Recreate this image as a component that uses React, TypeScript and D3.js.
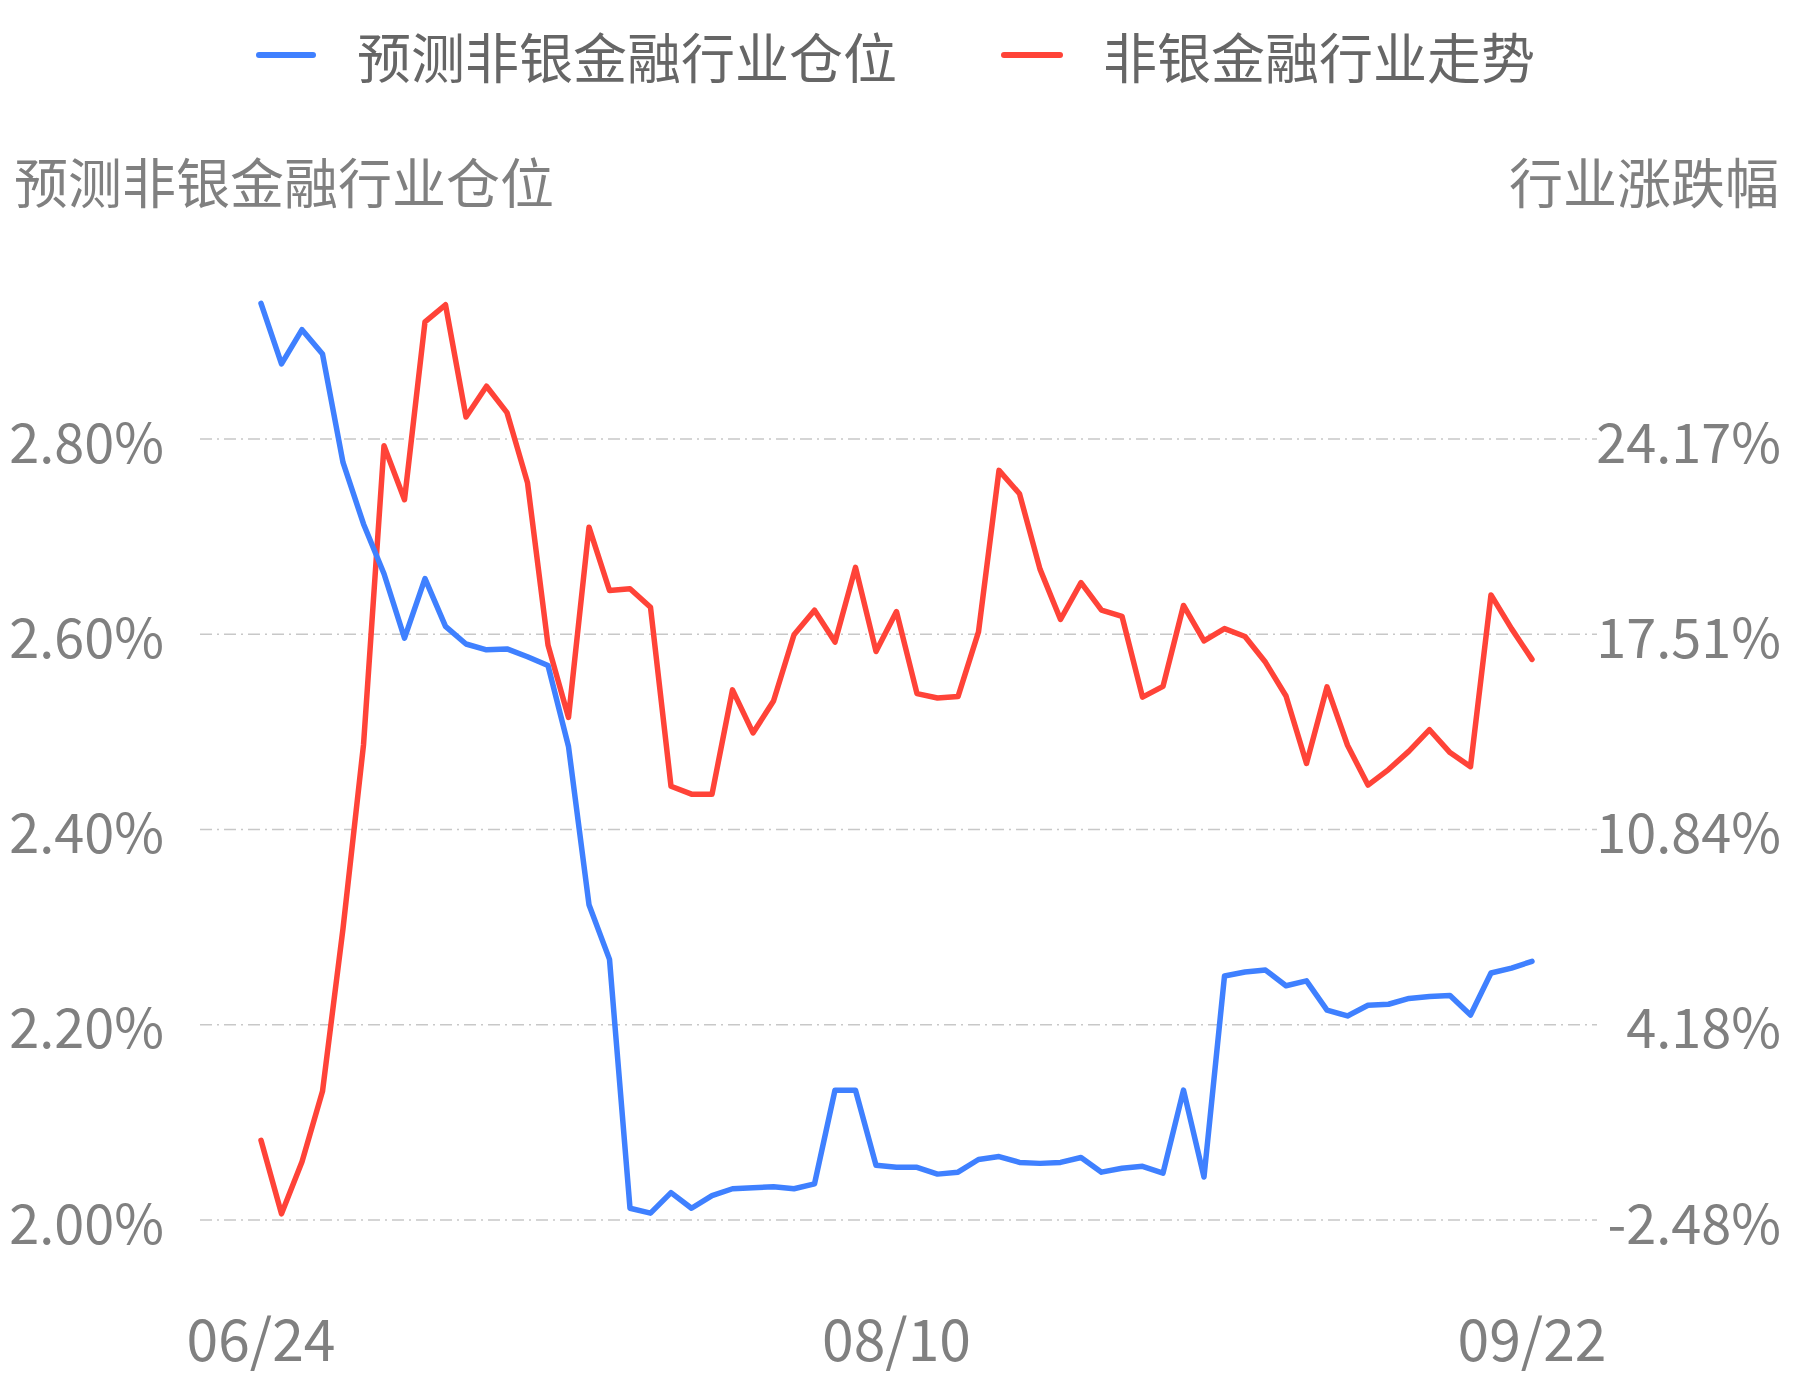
import React from "react";
import * as d3 from "d3";

// 预测非银金融行业仓位 (left axis, %)
const positionValues = [
  2.939, 2.877, 2.912, 2.887, 2.776, 2.713, 2.662, 2.596, 2.657, 2.608,
  2.59, 2.584, 2.585, 2.577, 2.568, 2.485, 2.323, 2.267, 2.012, 2.007,
  2.028, 2.012, 2.025, 2.032, 2.033, 2.034, 2.032, 2.037, 2.133, 2.133,
  2.056, 2.054, 2.054, 2.047, 2.049, 2.062, 2.065, 2.059, 2.058, 2.059,
  2.064, 2.049, 2.053, 2.055, 2.048, 2.133, 2.044, 2.25, 2.254, 2.256,
  2.24, 2.245, 2.215, 2.209, 2.22, 2.221, 2.227, 2.229, 2.23, 2.21,
  2.253, 2.258, 2.265,
];

// 非银金融行业走势 (right axis, %)
const trendValues = [
  0.24, -2.27, -0.49, 1.91, 7.46, 13.73, 23.94, 22.1, 28.17, 28.75,
  24.92, 25.97, 25.07, 22.68, 17.14, 14.67, 21.16, 19.0, 19.06, 18.43,
  12.32, 12.05, 12.05, 15.61, 14.14, 15.23, 17.49, 18.33, 17.24, 19.79,
  16.92, 18.28, 15.48, 15.33, 15.38, 17.59, 23.1, 22.3, 19.73, 18.01,
  19.27, 18.33, 18.12, 15.36, 15.73, 18.49, 17.28, 17.7, 17.43, 16.55,
  15.4, 13.1, 15.71, 13.72, 12.36, 12.89, 13.52, 14.25, 13.47, 12.99,
  18.85, 17.7, 16.65,
];

const leftTicks = [2.0, 2.2, 2.4, 2.6, 2.8];
const rightTicks = [-2.48, 4.18, 10.84, 17.51, 24.17];
const xTickIndices = [0, 31, 62];
const xTickLabels = ["06/24", "08/10", "09/22"];

const seriesNames = ["预测非银金融行业仓位", "非银金融行业走势"];
const leftTitle = "预测非银金融行业仓位";
const rightTitle = "行业涨跌幅";

const W = 1793;
const H = 1380;
const BLUE = "#3f80ff";
const RED = "#ff4338";
const TEXT = "#808080";
const FONT = '"Noto Sans CJK SC", "Noto Sans", sans-serif';

const App: React.FC = () => {
  const idx = d3.range(positionValues.length);

  const x = d3.scaleLinear().domain([0, idx.length - 1]).range([261, 1532]);
  const yLeft = d3.scaleLinear().domain([2.0, 2.8]).range([1220, 439]);
  const yRight = d3.scaleLinear().domain([-2.48, 24.17]).range([1220, 439]);

  const leftLine = d3
    .line<number>()
    .x((_, i) => x(i))
    .y((d) => yLeft(d));
  const rightLine = d3
    .line<number>()
    .x((_, i) => x(i))
    .y((d) => yRight(d));

  return (
    <div style={{ position: "absolute", left: 0, top: 0 }}>
      <svg width={W} height={H} style={{ display: "block", background: "#fff" }}>
        {/* 图例 */}
        <g fontFamily={FONT} fontSize={54} fill="#666">
          <line x1={259} x2={313} y1={55} y2={55} stroke={BLUE} strokeWidth={6} strokeLinecap="round" />
          <text x={357} y={55} dominantBaseline="central">{seriesNames[0]}</text>
          <line x1={1004} x2={1060} y1={55} y2={55} stroke={RED} strokeWidth={6} strokeLinecap="round" />
          <text x={1103} y={55} dominantBaseline="central">{seriesNames[1]}</text>
        </g>

        {/* 轴标题 */}
        <g fontFamily={FONT} fontSize={54} fill={TEXT}>
          <text x={14} y={180} dominantBaseline="central">{leftTitle}</text>
          <text x={1779} y={180} dominantBaseline="central" textAnchor="end">{rightTitle}</text>
        </g>

        {/* 网格线 */}
        {leftTicks.map((t) => (
          <line
            key={t}
            x1={200}
            x2={1597}
            y1={yLeft(t)}
            y2={yLeft(t)}
            stroke="#c8c8c8"
            strokeWidth={1.5}
            strokeDasharray="12 5 2 5"
          />
        ))}

        {/* 坐标轴标签 */}
        <g fontFamily={FONT} fontSize={54} fill={TEXT}>
          {leftTicks.map((t) => (
            <text key={t} x={164} y={yLeft(t)} textAnchor="end" dominantBaseline="central">
              {t.toFixed(2)}%
            </text>
          ))}
          {rightTicks.map((t) => (
            <text key={t} x={1781} y={yRight(t)} textAnchor="end" dominantBaseline="central">
              {t.toFixed(2)}%
            </text>
          ))}
        </g>
        <g fontFamily={FONT} fontSize={57} fill={TEXT}>
          {xTickIndices.map((i, k) => (
            <text key={i} x={x(i)} y={1336} textAnchor="middle" dominantBaseline="central">
              {xTickLabels[k]}
            </text>
          ))}
        </g>

        {/* 折线 */}
        <path d={rightLine(trendValues) ?? ""} fill="none" stroke={RED} strokeWidth={5.5} strokeLinejoin="round" strokeLinecap="round" />
        <path d={leftLine(positionValues) ?? ""} fill="none" stroke={BLUE} strokeWidth={5.5} strokeLinejoin="round" strokeLinecap="round" />
      </svg>
    </div>
  );
};

export default App;
